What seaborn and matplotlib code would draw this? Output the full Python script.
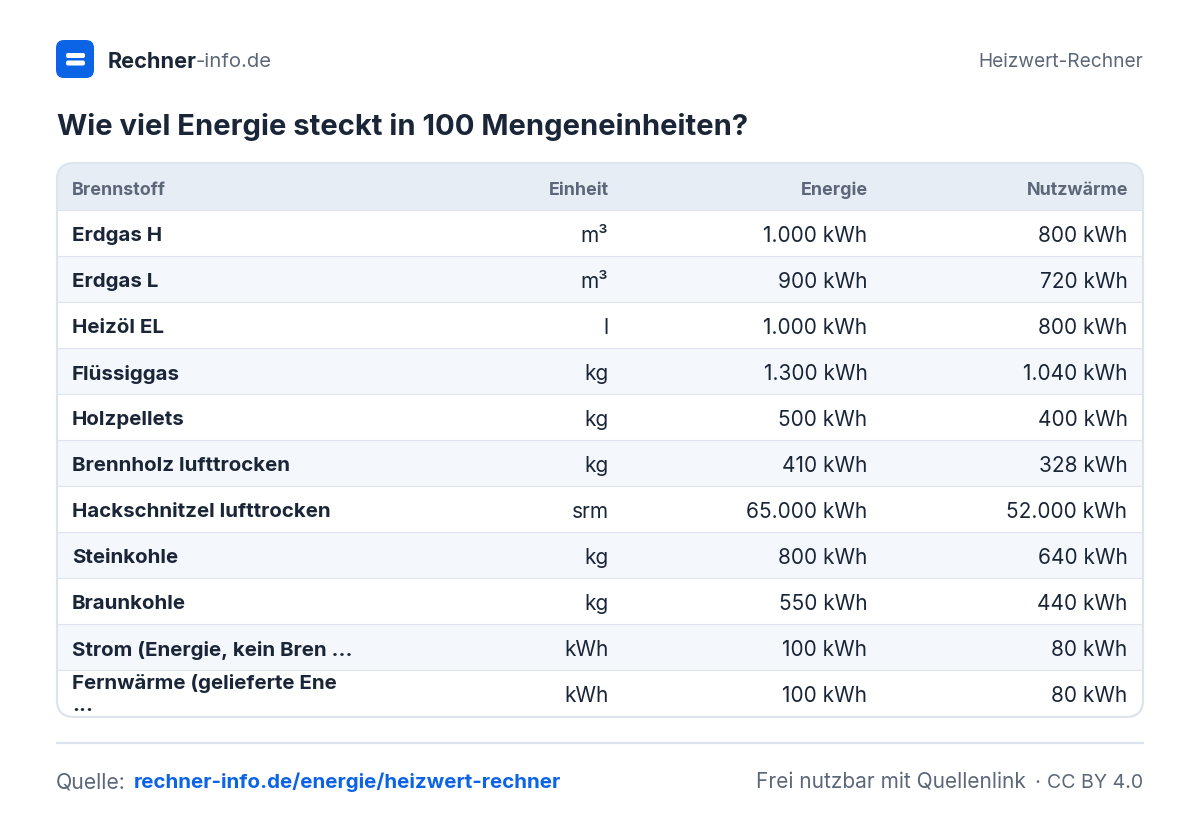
import matplotlib
matplotlib.use('Agg')
import matplotlib.pyplot as plt
import numpy as np
import seaborn as sns
from matplotlib.colors import ListedColormap
from matplotlib.patches import FancyBboxPatch

columns = ["Brennstoff", "Einheit", "Energie", "Nutzwärme"]
fuels = ["Erdgas H", "Erdgas L", "Heizöl EL", "Flüssiggas", "Holzpellets",
         "Brennholz lufttrocken", "Hackschnitzel lufttrocken", "Steinkohle",
         "Braunkohle", "Strom (Energie, kein Bren ...",
         "Fernwärme (gelieferte Ene\n..."]
units = ["m³", "m³", "l", "kg", "kg", "kg", "srm", "kg", "kg", "kWh", "kWh"]
energy = ["1.000 kWh", "900 kWh", "1.000 kWh", "1.300 kWh", "500 kWh", "410 kWh",
          "65.000 kWh", "800 kWh", "550 kWh", "100 kWh", "100 kWh"]
useful = ["800 kWh", "720 kWh", "800 kWh", "1.040 kWh", "400 kWh", "328 kWh",
          "52.000 kWh", "640 kWh", "440 kWh", "80 kWh", "80 kWh"]

DARK = "#1a2638"
GREY = "#5c6779"
BLUE = "#0b63e6"
LINE = "#dde4ee"

sns.set_theme(style="white")
plt.rcParams['font.family'] = ['Inter', 'DejaVu Sans']

W, H = 1200, 822
fig = plt.figure(figsize=(W / 100, H / 100), dpi=100, facecolor="white")

# table stripes, top/bottom in pixels
top, row_h = 164, 46
n_rows = len(fuels) + 1
left, right = 57, 1143
hm_ax = fig.add_axes([left / W, 1 - (top + row_h * n_rows) / H,
                      (right - left) / W, row_h * n_rows / H])
stripes = np.array([[0]] + [[1 + i % 2] for i in range(len(fuels))])
sns.heatmap(stripes, ax=hm_ax, cmap=ListedColormap(["#e7edf5", "#ffffff", "#f4f7fc"]),
            vmin=0, vmax=2, cbar=False, xticklabels=False, yticklabels=False)

# everything else goes on a pixel overlay
ax = fig.add_axes([0, 0, 1, 1], facecolor="none")
ax.set_xlim(0, W)
ax.set_ylim(H, 0)
ax.axis("off")

frame = FancyBboxPatch((left, 163), right - left, 554,
                       boxstyle="round,pad=0,rounding_size=17",
                       facecolor="none", edgecolor=LINE, linewidth=1.6, zorder=5)
ax.add_patch(frame)
clip = FancyBboxPatch((left, 163), right - left, 554,
                      boxstyle="round,pad=0,rounding_size=17",
                      facecolor="none", edgecolor="none", transform=ax.transData)
ax.add_patch(clip)
for coll in hm_ax.collections:
    coll.set_clip_path(clip)

for i in range(1, n_rows):
    ax.plot([left, right], [top + i * row_h] * 2, color=LINE, lw=0.8, zorder=2,
            solid_capstyle="butt")

# header
head_y = top + row_h / 2 + 1.5
col_x = [72, 608.5, 868, 1128]
for name, x in zip(columns, col_x):
    ax.text(x, head_y, name, fontsize=12.9, fontweight="bold", color=GREY,
            ha="left" if x == 72 else "right", va="center_baseline")

# rows
for i in range(len(fuels)):
    y = top + row_h * (i + 1.5) + 1
    name_y = y - 4 if "\n" in fuels[i] else y
    t = ax.text(72, name_y, fuels[i], fontsize=14.75, fontweight="bold", color=DARK,
                va="center_baseline", linespacing=1.35, zorder=3)
    t.set_clip_path(clip)
    ax.text(608.5, y, units[i], fontsize=15, color=DARK, ha="right", va="center_baseline")
    ax.text(867.5, y, energy[i], fontsize=15, color=DARK, ha="right", va="center_baseline")
    ax.text(1127.5, y, useful[i], fontsize=15, color=DARK, ha="right", va="center_baseline")

# logo
ax.add_patch(FancyBboxPatch((56, 40), 38, 38, boxstyle="round,pad=0,rounding_size=8",
                            facecolor=BLUE, edgecolor="none"))
for bar_y in (53, 60.5):
    ax.add_patch(FancyBboxPatch((66, bar_y), 19, 5,
                                boxstyle="round,pad=0,rounding_size=2",
                                facecolor="white", edgecolor="none"))
ax.text(108, 60, "Rechner", fontsize=15.6, fontweight="bold", color=DARK,
        va="center_baseline")
ax.text(196, 60, "-info.de", fontsize=14.6, color=GREY, va="center_baseline")
ax.text(1143, 60, "Heizwert-Rechner", fontsize=13.8, color=GREY, ha="right",
        va="center_baseline")

ax.text(57, 124, "Wie viel Energie steckt in 100 Mengeneinheiten?", fontsize=21.0,
        fontweight="bold", color=DARK, va="center_baseline")

# footer
ax.plot([56, 1144], [743, 743], color=LINE, lw=1.6, solid_capstyle="butt")
ax.text(56, 780.5, "Quelle:", fontsize=15.3, color=GREY, va="center_baseline")
ax.text(134, 780.5, "rechner-info.de/energie/heizwert-rechner", fontsize=14.8,
        fontweight="bold", color=BLUE, va="center_baseline")
ax.text(1026, 780.5, "Frei nutzbar mit Quellenlink", fontsize=15, color=GREY,
        ha="right", va="center_baseline")
ax.text(1037, 780.5, "·", fontsize=15, color=GREY, ha="center", va="center_baseline")
ax.text(1143, 780.5, "CC BY 4.0", fontsize=14.1, color=GREY, ha="right",
        va="center_baseline")

fig.savefig("out.png", dpi=100, facecolor="white")
